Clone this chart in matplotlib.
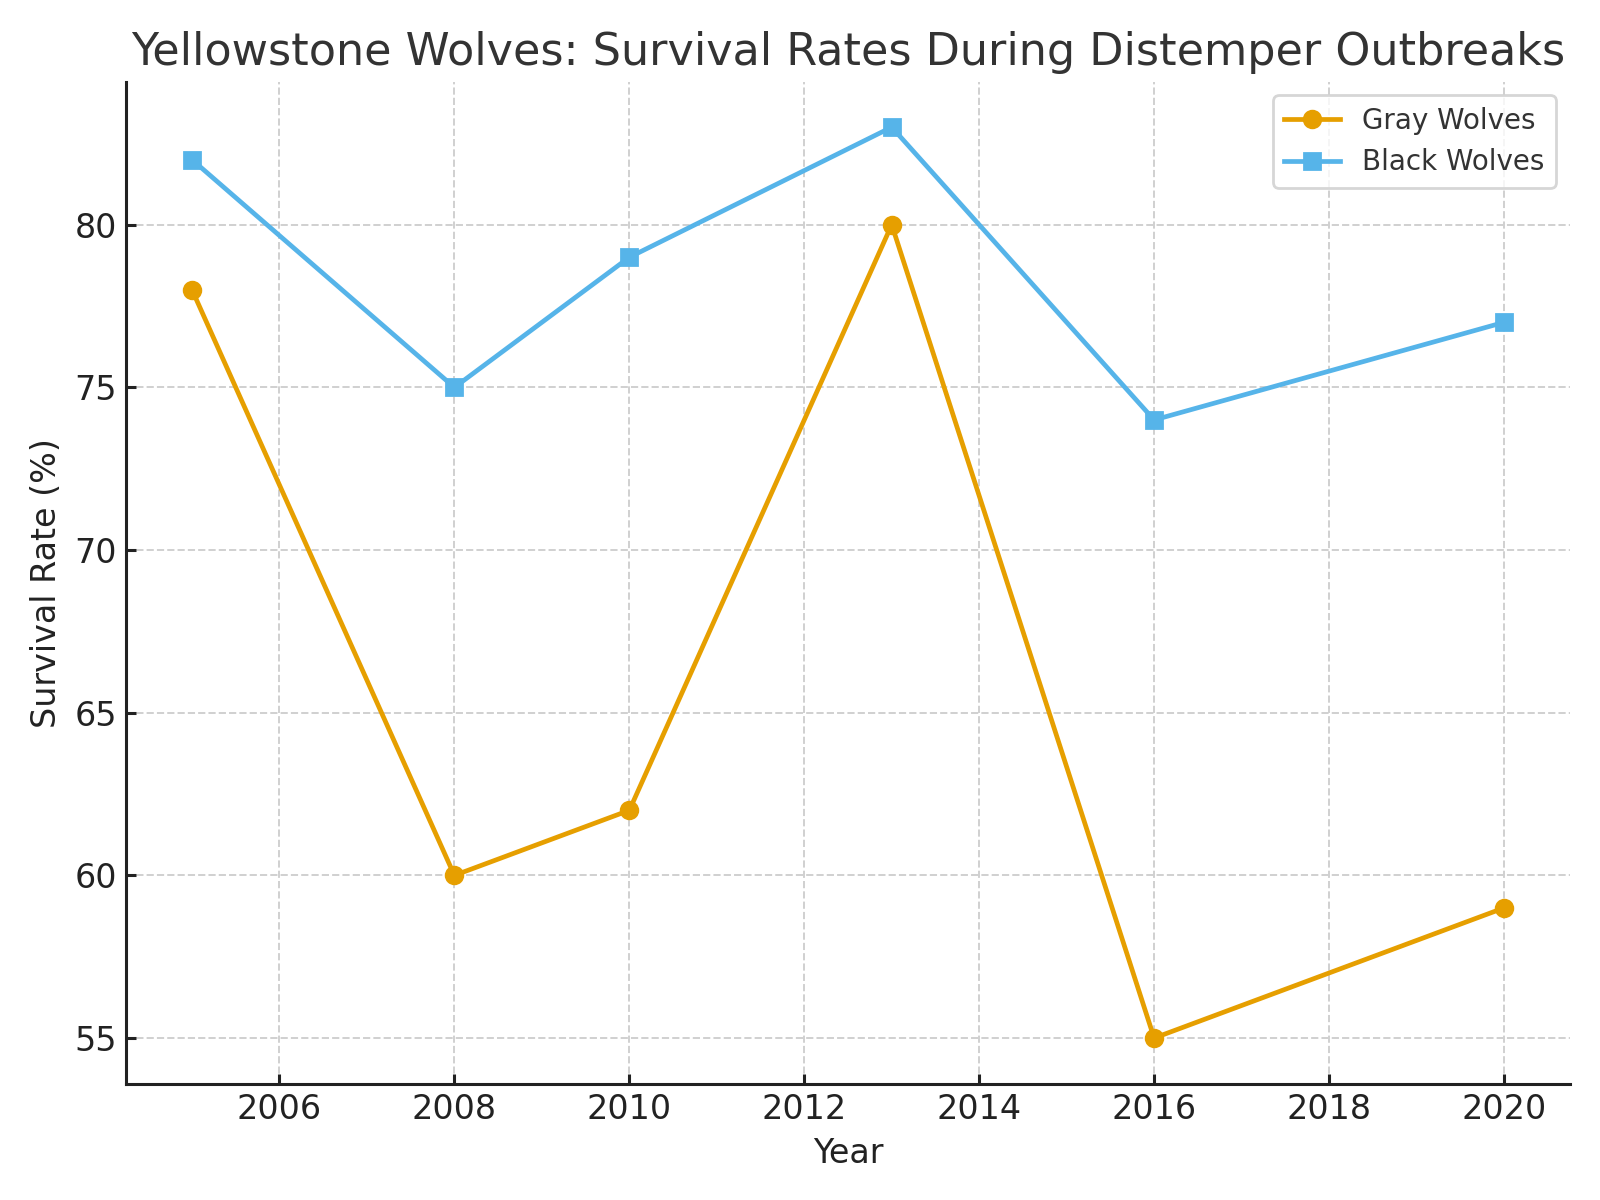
import numpy as np
from matplotlib import pyplot as plt

years = [2005, 2008, 2010, 2013, 2016, 2020]
gray_wolves = [78, 60, 62, 80, 55, 59]
black_wolves = [82, 75, 79, 83, 74, 77]

fig, ax = plt.subplots(figsize=(8, 6), dpi=200)
fig.subplots_adjust(left=0.079, right=0.981, top=0.932, bottom=0.097)

ax.plot(years, gray_wolves, marker='o', color='#E69F00', linewidth=1.7, markersize=6, label='Gray Wolves')
ax.plot(years, black_wolves, marker='s', color='#56B4E9', linewidth=1.7, markersize=6, label='Black Wolves')

ax.set_title('Yellowstone Wolves: Survival Rates During Distemper Outbreaks', fontsize=16, color='#333333')
ax.set_xlabel('Year', fontsize=12, color='#222222')
ax.set_ylabel('Survival Rate (%)', fontsize=12, color='#222222')
ax.tick_params(labelsize=12, direction='in', length=3.5, width=1.1, colors='#222222')
ax.grid(True, linestyle='--', color='#d0d0d0', linewidth=0.7)
for side in ['left', 'bottom']:
    ax.spines[side].set_linewidth(1.1)
    ax.spines[side].set_color('#222222')
ax.spines['top'].set_visible(False)
ax.spines['right'].set_visible(False)
leg = ax.legend(fontsize=10)
for t in leg.get_texts():
    t.set_color('#333333')

plt.savefig('out.png')
